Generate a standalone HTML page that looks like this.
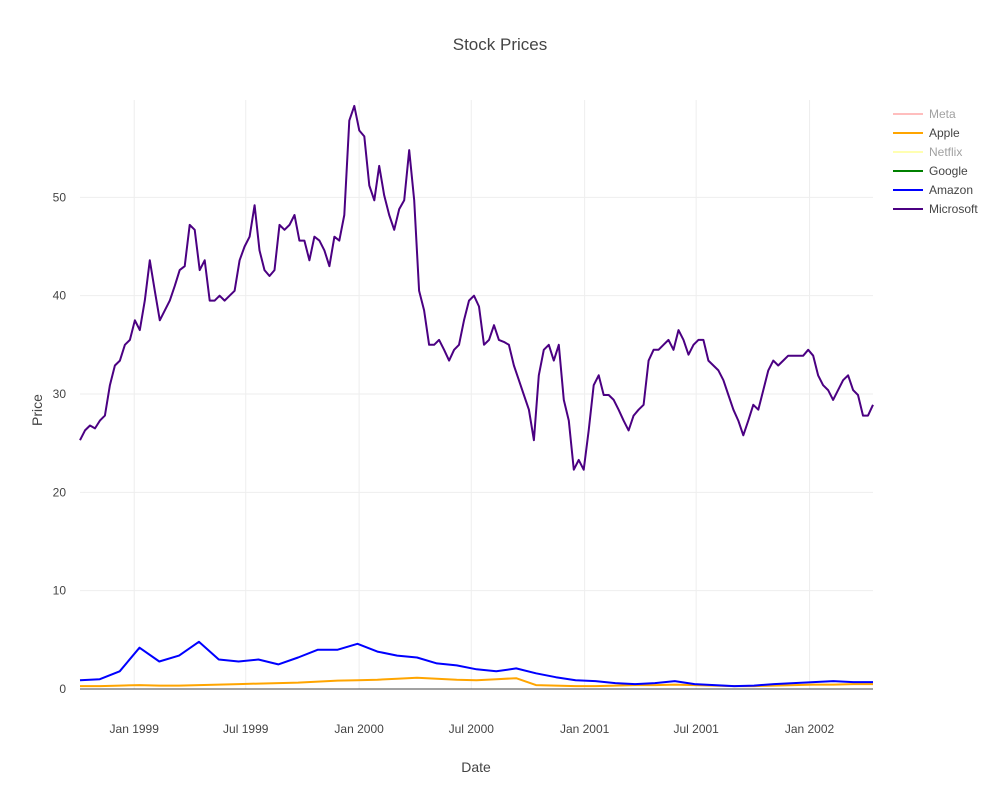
<!DOCTYPE html>
<html><head><meta charset="utf-8">
<style>
body{margin:0;background:#fff;font-family:"Liberation Sans",sans-serif;}
svg text{font-family:"Liberation Sans",sans-serif;}
</style></head>
<body>
<svg id="chart" width="1000" height="800" viewBox="0 0 1000 800">
<rect width="1000" height="800" fill="#fff"/>
<text x="500" y="50" text-anchor="middle" font-size="17" fill="#444">Stock Prices</text>
<g id="grid"></g>
<g id="series"></g>
<g id="axes"></g>
<text x="476" y="772" text-anchor="middle" font-size="14" fill="#444">Date</text>
<text transform="translate(42,410) rotate(-90)" text-anchor="middle" font-size="14" fill="#444">Price</text>
<g id="legend"></g>
</svg>
<script>
const msftValues=[25.3,26.3,26.8,26.5,27.3,27.8,30.9,32.9,33.4,35,35.5,37.5,36.5,39.5,43.6,40.5,37.5,38.5,39.5,41,42.6,43,47.2,46.7,42.6,43.6,39.5,39.5,40,39.5,40,40.5,43.6,45,46,49.2,44.6,42.6,42,42.6,47.2,46.7,47.2,48.2,45.6,45.6,43.6,46,45.6,44.6,43,46,45.6,48.2,57.8,59.3,56.8,56.2,51.2,49.7,53.2,50.2,48.2,46.7,48.8,49.7,54.8,49.7,40.5,38.5,35,35,35.5,34.5,33.4,34.5,35,37.5,39.5,40,38.9,35,35.5,37,35.5,35.3,35,32.9,31.4,29.9,28.4,25.3,31.9,34.5,35,33.4,35,29.4,27.3,22.3,23.3,22.3,26.3,30.9,31.9,29.9,29.9,29.4,28.4,27.3,26.3,27.8,28.4,28.9,33.4,34.5,34.5,35,35.5,34.5,36.5,35.5,34,35,35.5,35.5,33.4,32.9,32.4,31.4,29.9,28.4,27.3,25.8,27.3,28.9,28.4,30.4,32.4,33.4,32.9,33.4,33.9,33.9,33.9,33.9,34.5,33.9,31.9,30.9,30.4,29.4,30.4,31.4,31.9,30.4,29.9,27.8,27.8,28.9];
const amznValues=[0.9,1.0,1.8,4.2,2.8,3.4,4.8,3.0,2.8,3.0,2.5,3.2,4.0,4.0,4.6,3.8,3.4,3.2,2.6,2.4,2.0,1.8,2.1,1.6,1.2,0.9,0.8,0.6,0.5,0.6,0.8,0.5,0.4,0.3,0.35,0.5,0.6,0.7,0.8,0.7,0.7];
const aaplValues=[0.3,0.3,0.35,0.4,0.35,0.35,0.4,0.45,0.5,0.55,0.6,0.65,0.75,0.85,0.9,0.95,1.05,1.15,1.05,0.95,0.9,1.0,1.1,0.4,0.35,0.3,0.3,0.35,0.4,0.4,0.45,0.4,0.35,0.3,0.3,0.35,0.4,0.45,0.45,0.5,0.5];
const yTicks=[0,10,20,30,40,50];
const xTickLabels=["Jan 1999","Jul 1999","Jan 2000","Jul 2000","Jan 2001","Jul 2001","Jan 2002"];
const xTickDates=["1999-01-01","1999-07-01","2000-01-01","2000-07-01","2001-01-01","2001-07-01","2002-01-01"];
const legendNames=["Meta","Apple","Netflix","Google","Amazon","Microsoft"];
const legendColors=["#ff7f7f","orange","#ffff66","green","blue","indigo"];
const legendFaded=[true,false,true,false,false,false];

const NS="http://www.w3.org/2000/svg";
const L=80,R=873,T=100,B=689;
const DAY=86400000;
const startDate=Date.UTC(1998,9,5), endDate=Date.UTC(2002,3,14);
const yMax=59.9;
function xs(t){return L+(t-startDate)/(endDate-startDate)*(R-L);}
function ys(v){return B-v/yMax*(B-T);}
function mk(tag,attrs,parent){const e=document.createElementNS(NS,tag);for(const k in attrs)e.setAttribute(k,attrs[k]);parent.appendChild(e);return e;}
function datesFor(n){const step=(endDate-startDate)/(n-1);const d=[];for(let i=0;i<n;i++)d.push(startDate+i*step);return d;}

const grid=document.getElementById('grid'),axes=document.getElementById('axes'),series=document.getElementById('series'),legend=document.getElementById('legend');
yTicks.forEach(v=>{
  const y=ys(v);
  const ln=mk('line',{x1:L,x2:R,y1:y,y2:y,stroke:v===0?'#444':'#eee','stroke-width':1},v===0?axes:grid);
  
  
  const t=mk('text',{x:66,y:y+4,'text-anchor':'end','font-size':12,fill:'#444'},axes);
  t.textContent=v;
  
  
});
xTickDates.forEach((d,i)=>{
  const p=d.split('-');const x=xs(Date.UTC(+p[0],+p[1]-1,+p[2]));
  const ln=mk('line',{x1:x,x2:x,y1:T,y2:B,stroke:'#eee','stroke-width':1},grid);
  
  
  const t=mk('text',{x:x,y:733,'text-anchor':'middle','font-size':12,fill:'#444'},axes);
  t.textContent=xTickLabels[i];
  
  
});
function drawLine(vals,color,name){
  const d=datesFor(vals.length);
  const pts=vals.map((v,i)=>xs(d[i]).toFixed(1)+','+ys(v).toFixed(1)).join(' ');
  const pl=mk('polyline',{points:pts,fill:'none',stroke:color,'stroke-width':2,'stroke-linejoin':'round'},series);
  
  
}
drawLine(aaplValues,'orange','apple-line');
drawLine(amznValues,'blue','amazon-line');
drawLine(msftValues,'indigo','microsoft-line');

legendNames.forEach((n,i)=>{
  const y=114+i*19;
  const g=mk('g',{opacity:legendFaded[i]?0.5:1},legend);
  
  
  mk('line',{x1:893,x2:923,y1:y,y2:y,stroke:legendColors[i],'stroke-width':2},g);
  const t=mk('text',{x:929,y:y+4,'font-size':12,fill:'#444'},g);
  t.textContent=n;
});
</script>
</body></html>
